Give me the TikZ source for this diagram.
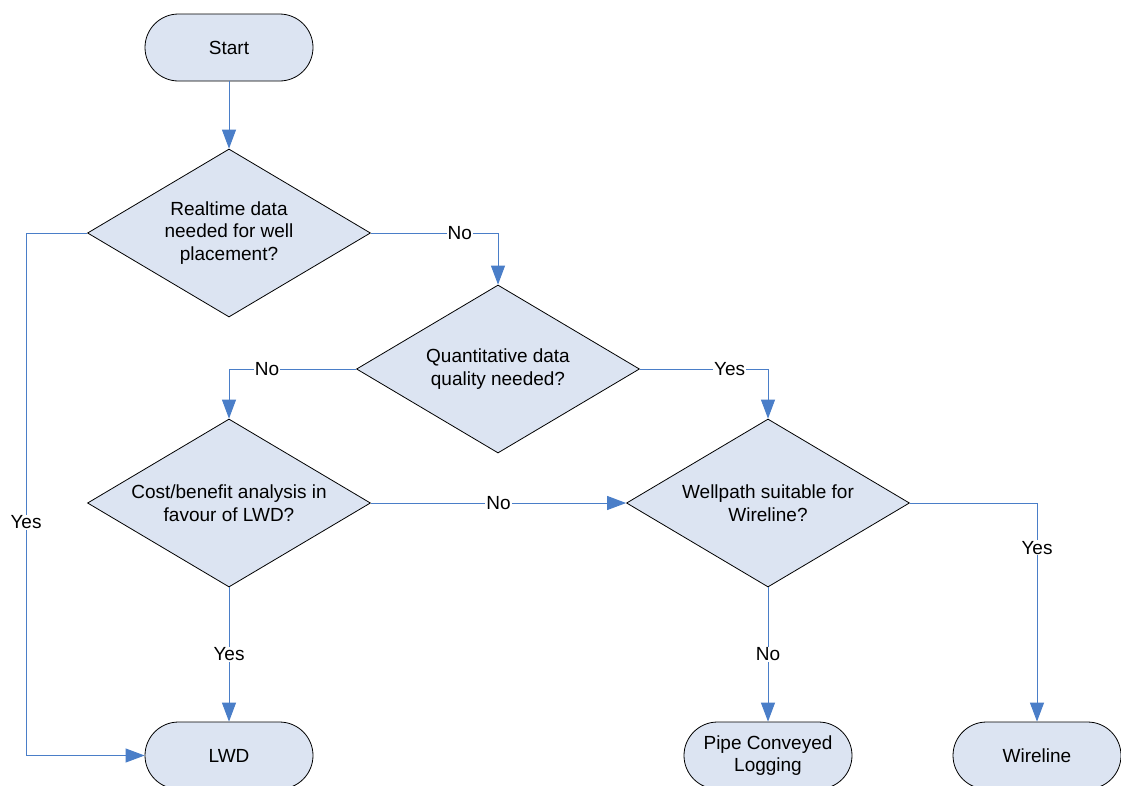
\documentclass[tikz,border=0pt]{standalone}
\usepackage{fontspec}
\setmainfont{Liberation Sans}
\usetikzlibrary{shapes.geometric,shapes.misc,arrows.meta}
\definecolor{flowfill}{RGB}{220,228,242}
\definecolor{flowline}{RGB}{74,126,200}
\begin{document}
\begin{tikzpicture}[x=1pt,y=-1pt,
  every node/.style={font=\fontsize{19}{22.5}\selectfont},
  terminal/.style={rounded rectangle, draw=black, line width=0.8pt, fill=flowfill,
    minimum width=168pt, minimum height=67pt, inner sep=0pt, align=center},
  decision/.style={diamond, draw=black, line width=0.8pt, fill=flowfill, aspect=1.685,
    minimum width=283pt, minimum height=168pt, inner sep=0pt, align=center},
  flow/.style={draw=flowline, line width=1pt, -{Triangle[length=19pt,width=14pt]}},
  lbl/.style={fill=white, inner sep=1pt}
]
\clip (0,0) rectangle (1121,785);
\fill[white] (0,0) rectangle (1121,785);

% terminals
\node[terminal] (start) at (229,47.5) {Start};
\node[terminal] (lwd)   at (229,755.5) {LWD};
\node[terminal] (pcl)   at (768,755.5) {Pipe Conveyed\\Logging};
\node[terminal] (wl)    at (1037,755.5) {Wireline};

% decisions
\node[decision] (realtime) at (229,233) {Realtime data\\needed for well\\placement?};
\node[decision] (quant)    at (498,369) {Quantitative data\\quality needed?};
\node[decision] (cost)     at (229,503) {Cost/benefit analysis in\\favour of LWD?};
\node[decision] (path)     at (768,503) {Wellpath suitable for\\Wireline?};

% connectors
\draw[flow] (start.south) -- (realtime.north);
\draw[flow] (realtime.east) -- node[lbl,pos=0.7]{No} (realtime.east -| quant.north) -- (quant.north);
\coordinate (yesbend) at (26,233);
\draw[flow] (realtime.west) -- (yesbend) -- node[lbl,pos=0.554]{Yes} (yesbend |- lwd.west) -- (lwd.west);
\draw[flow] (quant.west) -- node[lbl,pos=0.7]{No} (quant.west -| cost.north) -- (cost.north);
\draw[flow] (quant.east) -- node[lbl,pos=0.7]{Yes} (quant.east -| path.north) -- (path.north);
\draw[flow] (cost.east) -- node[lbl,pos=0.5]{No} (path.west);
\draw[flow] (cost.south) -- node[lbl,pos=0.5]{Yes} (lwd.north);
\draw[flow] (path.south) -- node[lbl,pos=0.5]{No} (pcl.north);
\draw[flow] (path.east) -- (path.east -| wl.north) -- node[lbl,pos=0.205]{Yes} (wl.north);
\end{tikzpicture}
\end{document}
